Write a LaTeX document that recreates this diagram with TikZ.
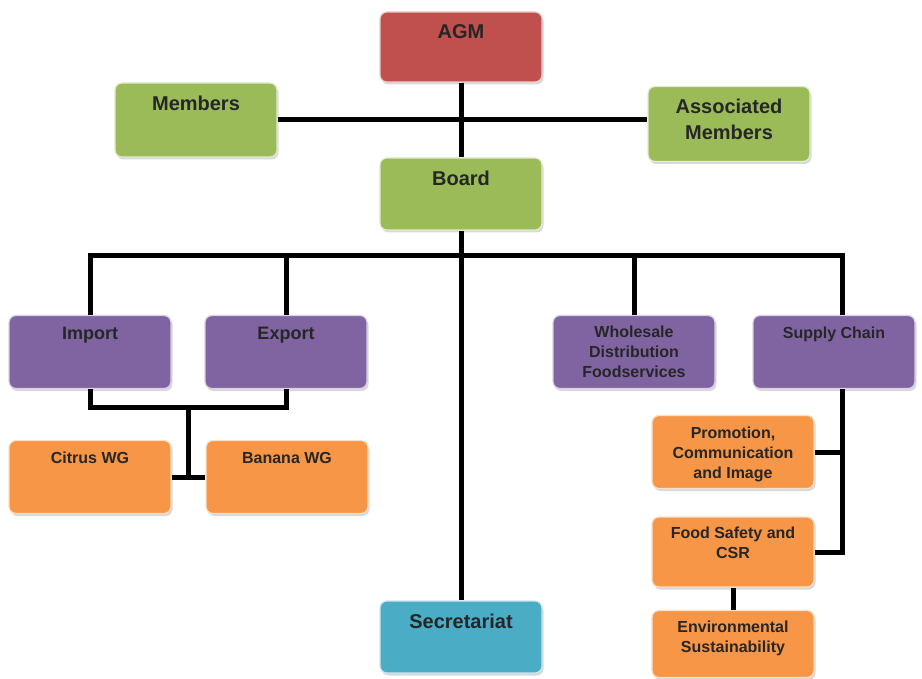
\documentclass[tikz,border=0pt]{standalone}
\usepackage{fontspec}
\setmainfont{Liberation Sans}
\usetikzlibrary{shadows}
\definecolor{ored}{RGB}{192,80,77}
\definecolor{ogreen}{RGB}{155,187,89}
\definecolor{opurple}{RGB}{128,100,162}
\definecolor{oorange}{RGB}{247,150,70}
\definecolor{oblue}{RGB}{75,172,198}
\tikzset{
  bx/.style={rounded corners=7pt,fill=#1,draw=white!70!#1,line width=1.2pt,
    minimum width=162pt,minimum height=72pt,inner sep=0pt,
    drop shadow={shadow xshift=1.5pt,shadow yshift=-2.5pt,opacity=.3}},
  tx/.style={anchor=north,inner sep=0pt,align=center,text=black!85,
    font=\bfseries\fontsize{20}{26}\selectfont},
  txm/.style={tx,font=\bfseries\fontsize{18}{22}\selectfont},
  txs/.style={tx,font=\bfseries\fontsize{16}{20}\selectfont},
  ln/.style={draw=black,line width=5pt},
}
\begin{document}
\begin{tikzpicture}[x=1pt,y=-1pt]
\useasboundingbox (0,0) rectangle (922,679);
% boxes
\node[bx=ored] (agm) at (461,47) [minimum height=70pt] {};
\node[bx=ogreen] (members) at (196,120) [minimum height=74pt] {};
\node[bx=ogreen] (assoc) at (729,124) [minimum height=75pt] {};
\node[bx=ogreen] (board) at (461,194) {};
\node[bx=opurple] (import) at (90,352) [minimum height=73pt] {};
\node[bx=opurple] (export) at (286,352) [minimum height=73pt] {};
\node[bx=opurple] (wholesale) at (634,352) [minimum height=73pt] {};
\node[bx=opurple] (supply) at (834,352) [minimum height=73pt] {};
\node[bx=oorange] (citrus) at (90,477) [minimum height=73pt] {};
\node[bx=oorange] (banana) at (287,477) [minimum height=73pt] {};
\node[bx=oorange] (promo) at (733,452) [minimum height=73pt] {};
\node[bx=oorange] (food) at (733,552) [minimum height=70pt] {};
\node[bx=oorange] (env) at (733,644) [minimum height=67pt] {};
\node[bx=oblue] (secr) at (461,637) {};
% texts
\node[tx] (agm-t) at ([yshift=-13pt]agm.north) {AGM};
\node[tx] (members-t) at ([yshift=-13pt]members.north) {Members};
\node[tx] (assoc-t) at ([yshift=-13pt]assoc.north) {Associated\\Members};
\node[tx] (board-t) at ([yshift=-13pt]board.north) {Board};
\node[txm] (import-t) at ([yshift=-12pt]import.north) {Import};
\node[txm] (export-t) at ([yshift=-12pt]export.north) {Export};
\node[txs] (wholesale-t) at ([yshift=-11pt]wholesale.north) {Wholesale\\Distribution\\Foodservices};
\node[txs] (supply-t) at ([yshift=-12pt]supply.north) {Supply Chain};
\node[txs] (citrus-t) at ([yshift=-12pt]citrus.north) {Citrus WG};
\node[txs] (banana-t) at ([yshift=-12pt]banana.north) {Banana WG};
\node[txs] (promo-t) at ([yshift=-12pt]promo.north) {Promotion,\\Communication\\and Image};
\node[txs] (food-t) at ([yshift=-10pt]food.north) {Food Safety and\\CSR};
\node[txs] (env-t) at ([yshift=-11pt]env.north) {Environmental\\Sustainability};
\node[tx] (secr-t) at ([yshift=-13pt]secr.north) {Secretariat};
% connectors
\coordinate (bus) at (461,256);
\coordinate (ie) at (188,407);
\coordinate (spine) at ([xshift=8pt]supply.south);
\draw[ln] (members.east) -- (members.east -| assoc.west);
\draw[ln] (agm) -- (board);
\draw[ln] (board) -- (secr);
\draw[ln] (import.north) |- (bus) -| ([xshift=8pt]supply.north);
\draw[ln] (export.north) -- (export.north |- bus);
\draw[ln] (wholesale.north) -- (wholesale.north |- bus);
\draw[ln] (import.south) |- (ie) -| (export.south);
\draw[ln] (ie) |- (citrus.east);
\draw[ln] (citrus.east) -- (banana.west);
\draw[ln] (spine) |- (food.east);
\draw[ln] (promo.east) -- (promo.east -| spine);
\draw[ln] (food) -- (env);
\end{tikzpicture}
\end{document}
